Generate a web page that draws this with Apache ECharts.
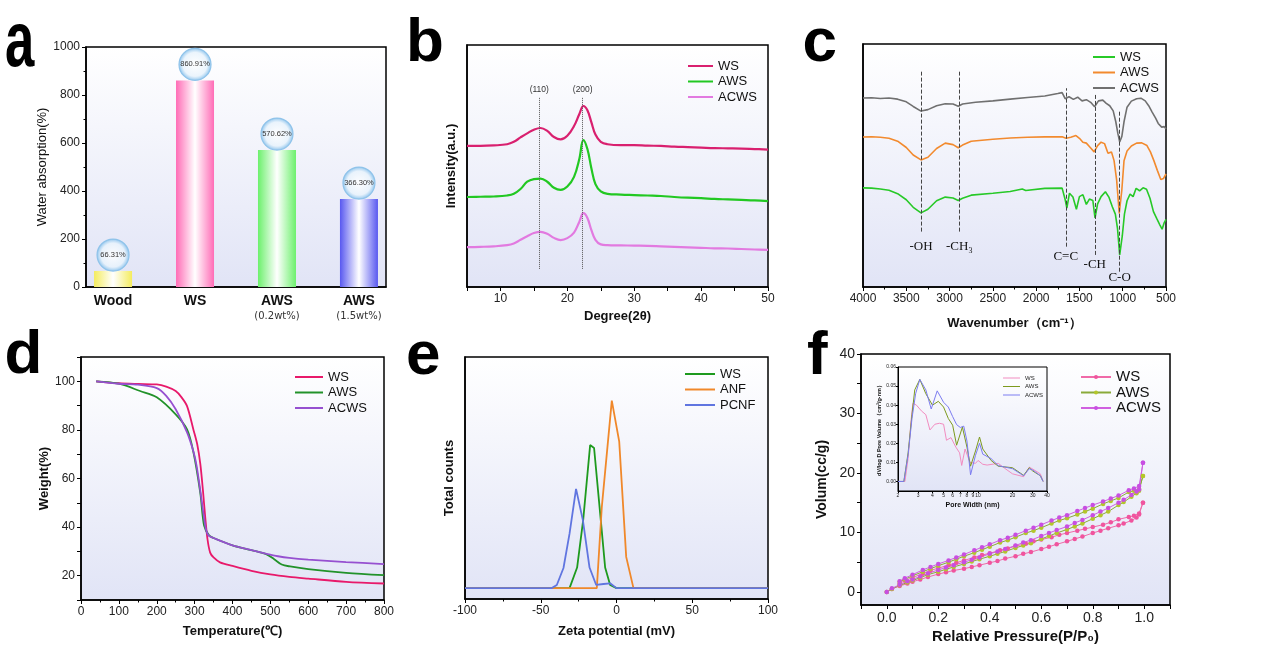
<!DOCTYPE html>
<html>
<head>
<meta charset="utf-8">
<script src="https://cdn.jsdelivr.net/npm/echarts@6/dist/echarts.min.js"></script>
<style>
  html, body { margin: 0; padding: 0; background: #fff; }
  .layer { position: absolute; left: 0; top: 0; width: 1268px; height: 663px; }
</style>
</head>
<body>
<div id="pa" class="layer"></div>
<div id="pb" class="layer"></div>
<div id="pc" class="layer"></div>
<div id="pd" class="layer"></div>
<div id="pe" class="layer"></div>
<div id="pf" class="layer"></div>
<div id="pinset" class="layer"></div>
<script>
// ---- a: water absorption ----
const absCats = ['Wood', 'WS', 'AWS', 'AWS'];
const absSub = ['', '', '(0.2wt%)', '(1.5wt%)'];
const absValues = [66.31, 860.91, 570.62, 366.30];
const absColors = ['#f4ec5e', '#ff6cb6', '#6cf06c', '#5858f0'];

// ---- b: XRD ----
const xrdDeg = [5, 7, 9, 11, 12, 13, 14, 15, 16, 17, 18, 19, 20, 21, 21.8, 22.4, 23, 23.6, 24.2, 25, 26, 28, 30, 32, 34, 36, 38, 40, 42, 44, 46, 48, 50];
const xrdWS = [58.3, 58.3, 58.5, 59, 60, 61.8, 63.5, 65, 65.7, 64.5, 62, 61, 62.5, 66.5, 71.5, 74.8, 73, 68, 63, 60, 59, 58.6, 58.6, 58.4, 58.3, 58, 57.8, 57.6, 57.4, 57.3, 57.2, 57, 56.8];
const xrdAWS = [37.2, 37.3, 37.4, 37.8, 38.5, 40.5, 43.5, 44.6, 44.8, 43.5, 41, 40.1, 41.5, 45.5, 53, 60.7, 57, 49, 42.5, 39.5, 38.5, 38.2, 38, 37.8, 37.6, 37.2, 36.9, 36.7, 36.4, 36.2, 36, 35.8, 35.5];
const xrdACWS = [16.5, 16.6, 16.8, 17.3, 18, 19.5, 21, 22.3, 22.8, 22, 20.3, 19.4, 20.2, 22.5, 27, 30.5, 28.5, 23.5, 19.5, 17.6, 17.3, 17.2, 17.1, 17, 16.8, 16.6, 16.4, 16.2, 16, 15.9, 15.7, 15.5, 15.3];
const xrdPeaks = [15.8, 22.3];
const xrdPeakNames = ['(110)', '(200)'];

// ---- c: FTIR ----
const ftACWS = [[4000,77.8],[3900,77.9],[3800,77.6],[3700,77.8],[3600,77.3],[3500,76.2],[3420,74.3],[3330,72.4],[3250,73],[3150,74.6],[3050,75.4],[2960,75.3],[2900,74.4],[2850,75.3],[2700,76],[2500,76.6],[2300,77.3],[2100,78],[1900,78.6],[1750,79.6],[1700,80],[1665,77.5],[1620,78.3],[1570,77.2],[1520,78.1],[1470,76.6],[1420,77.1],[1370,76],[1325,74.2],[1280,76.6],[1230,76.9],[1190,75.6],[1150,74.6],[1110,72.5],[1080,68],[1055,63],[1035,59.7],[1010,62],[985,68],[950,74],[900,76.5],[840,77.5],[790,77.7],[740,76.6],[700,74.6],[660,72],[620,69.5],[590,67.3],[550,65.8],[520,66],[500,65]];
const ftAWS = [[4000,61.7],[3900,61.8],[3800,61.6],[3700,61.2],[3600,60],[3500,57.4],[3420,54.3],[3330,52.3],[3250,53.4],[3150,57],[3050,59.2],[2960,58.6],[2900,57.3],[2850,58.4],[2750,60],[2500,60.8],[2300,61.3],[2100,61.6],[1900,61.8],[1700,61.8],[1655,61.2],[1600,61.6],[1540,62.3],[1500,61.2],[1460,59.6],[1420,59.2],[1380,57.6],[1330,55.6],[1290,58.2],[1250,59.6],[1210,59],[1170,55],[1130,55.6],[1100,52],[1070,44],[1040,30.3],[1010,40],[985,52],[950,56],[900,58],[840,59.2],[780,59.3],[720,58.2],[680,55.6],[640,52],[600,48],[560,44.2],[530,44.6],[500,46.5]];
const ftWS = [[4000,40.8],[3900,40.7],[3800,40.3],[3700,39.8],[3600,38.4],[3500,35.9],[3420,32.8],[3330,30.5],[3250,32],[3150,35.5],[3050,37],[2960,36.6],[2900,35.6],[2850,36.5],[2750,37.8],[2500,38.6],[2300,39.3],[2160,40.3],[2120,39.7],[1900,40.6],[1700,40.7],[1665,36],[1645,32.5],[1615,38.6],[1575,37],[1535,32],[1500,37.2],[1460,38],[1420,34],[1385,36.2],[1345,35.6],[1320,28.4],[1290,34.2],[1250,37.2],[1200,39.2],[1160,37],[1120,33],[1085,30],[1060,24],[1035,13.2],[1005,21],[980,30],[950,35.5],[915,38.2],[880,37.2],[845,40.6],[805,39.6],[765,40.8],[725,40.2],[685,36.5],[645,31],[605,28],[570,25.5],[545,23.8],[520,26.5],[500,27.8]];
const ftBands = ['-OH', '-CH₃', 'C=C', '-CH', 'C-O'];
const ftBandPos = [3330, 2887, 1658, 1323, 1036];
const ftBandLow = [22.8, 22.8, 16.6, 13.2, 6.3];
const ftBandHigh = [88.6, 88.6, 81.8, 79.4, 72.8];

// ---- d: TGA ----
const tgWS = [[40,100],[100,99.2],[150,98.9],[200,98.7],[225,97.8],[250,96],[265,93.5],[280,89.8],[297,80],[307,74],[315,66],[322,55],[328,44],[334,35],[341,29.5],[350,27.5],[367,25.5],[400,24],[450,22],[500,20.5],[550,19.5],[600,18.8],[700,17.5],[800,16.8]];
const tgAWS = [[40,100],[100,99],[156,96],[200,93.4],[250,86.4],[280,80.2],[297,70.7],[315,54],[325,40.6],[338,36.6],[350,35.5],[400,32.5],[450,30.5],[490,28.8],[510,26.8],[530,24.6],[552,23.8],[600,22.7],[700,21.2],[800,20.2]];
const tgACWS = [[40,100],[100,99],[150,98.6],[200,97.2],[225,94],[250,88.5],[280,79],[297,71],[305,65.4],[315,55],[322,47],[330,39],[337,36.5],[350,35.5],[400,32.5],[450,30.5],[490,29],[520,28],[550,27.3],[600,26.6],[700,25.6],[800,24.8]];

// ---- e: zeta potential ----
const zWS = [[-100,4.5],[-31,4.5],[-26,13],[-22,32.6],[-17.4,63.6],[-14.8,62.4],[-10.8,35.5],[-7.5,13],[-4.2,5.8],[0,4.5],[100,4.5]];
const zANF = [[-100,4.5],[-13,4.5],[-9.7,38],[-6.4,60],[-3.1,82],[1.8,65],[6.4,17.4],[11.2,4.5],[100,4.5]];
const zPCNF = [[-100,4.5],[-42.7,4.5],[-39.4,5.8],[-35,12.8],[-31,27],[-26.7,45.5],[-22.2,32.6],[-17.8,13],[-13.4,5.8],[-8.6,6.2],[-4.2,6.5],[0,4.5],[100,4.5]];

// ---- f: N2 isotherms ----
const adsP = [0, 0.02, 0.05, 0.08, 0.1, 0.13, 0.16, 0.2, 0.23, 0.26, 0.3, 0.33, 0.36, 0.4, 0.43, 0.46, 0.5, 0.53, 0.56, 0.6, 0.63, 0.66, 0.7, 0.73, 0.76, 0.8, 0.83, 0.86, 0.9, 0.92, 0.95, 0.97, 0.98, 0.995];
const desP = [0.995, 0.98, 0.96, 0.94, 0.9, 0.87, 0.84, 0.8, 0.77, 0.74, 0.7, 0.67, 0.64, 0.6, 0.57, 0.54, 0.5, 0.47, 0.44, 0.4, 0.37, 0.34, 0.3, 0.27, 0.24, 0.2, 0.17, 0.14, 0.1, 0.07, 0.05];
const wsAds = [0, 0.5, 1.0, 1.4, 1.7, 2.1, 2.5, 3.0, 3.3, 3.6, 3.9, 4.2, 4.5, 4.9, 5.2, 5.6, 6.0, 6.4, 6.7, 7.2, 7.6, 8.0, 8.5, 8.9, 9.3, 9.9, 10.3, 10.7, 11.2, 11.5, 12.0, 12.5, 13.0, 15.0];
const wsDes = [15.0, 13.2, 12.8, 12.6, 12.2, 11.7, 11.3, 10.9, 10.6, 10.3, 9.9, 9.6, 9.2, 8.8, 8.5, 8.1, 7.7, 7.3, 7.0, 6.5, 6.2, 5.8, 5.3, 4.9, 4.5, 4.0, 3.6, 3.1, 2.4, 1.9, 1.4];
const awsAds = [0, 0.5, 1.1, 1.6, 1.9, 2.4, 2.9, 3.4, 3.8, 4.2, 4.7, 5.1, 5.5, 6.0, 6.4, 6.8, 7.4, 7.8, 8.2, 8.9, 9.4, 9.9, 10.5, 11.0, 11.5, 12.3, 12.9, 13.5, 14.6, 15.1, 16.0, 16.6, 17.0, 19.5];
const awsDes = [19.5, 17.3, 17.0, 16.8, 15.8, 15.3, 14.8, 14.0, 13.5, 13.0, 12.4, 12.0, 11.5, 10.8, 10.3, 9.9, 9.2, 8.7, 8.3, 7.6, 7.1, 6.6, 6.0, 5.5, 5.0, 4.4, 3.9, 3.4, 2.7, 2.1, 1.7];
const acwsAds = [0, 0.6, 1.2, 1.8, 2.1, 2.6, 3.1, 3.7, 4.1, 4.5, 5.0, 5.4, 5.8, 6.4, 6.8, 7.2, 7.8, 8.3, 8.7, 9.4, 9.9, 10.4, 11.0, 11.6, 12.1, 12.9, 13.5, 14.1, 15.0, 15.5, 16.3, 16.9, 17.2, 21.7];
const acwsDes = [21.7, 17.8, 17.4, 17.1, 16.2, 15.7, 15.2, 14.6, 14.1, 13.6, 12.9, 12.5, 12.0, 11.3, 10.8, 10.3, 9.6, 9.1, 8.7, 8.0, 7.5, 7.0, 6.3, 5.8, 5.3, 4.7, 4.2, 3.7, 2.9, 2.3, 1.8];

// ---- f inset: pore size distribution ----
const poreWS = [[2.0,0],[2.3,0],[2.45,0.012],[2.6,0.032],[2.7,0.041],[2.9,0.040],[3.2,0.037],[3.5,0.035],[3.8,0.027],[4.2,0.030],[4.6,0.0305],[5.0,0.030],[5.3,0.0216],[5.8,0.023],[6.4,0.018],[6.9,0.015],[7.2,0.0084],[7.7,0.017],[8.5,0.010],[9.5,0.0095],[10,0.011],[11,0.009],[12,0.0086],[15,0.0095],[17,0.007],[20,0.004],[25,0.0025],[28,0.0075],[30,0.0065],[35,0.004],[37,0]];
const poreAWS = [[2.0,0],[2.25,0],[2.45,0.015],[2.65,0.035],[2.8,0.048],[3.1,0.0535],[3.5,0.046],[4.0,0.040],[4.5,0.042],[5.0,0.039],[5.5,0.033],[6.0,0.0295],[6.5,0.019],[7.3,0.0285],[8.0,0.018],[8.6,0.008],[9.5,0.016],[10.3,0.0233],[11,0.017],[13,0.011],[15,0.008],[20,0.0072],[25,0.0032],[28,0.0072],[30,0.0055],[35,0.003],[37,0]];
const poreACWS = [[2.0,0],[2.25,0],[2.45,0.014],[2.65,0.033],[2.85,0.046],[3.1,0.0535],[3.5,0.048],[3.9,0.038],[4.4,0.0475],[5.0,0.0415],[5.5,0.039],[6.0,0.034],[6.5,0.0298],[7.0,0.0283],[7.5,0.029],[8.0,0.0212],[8.6,0.0035],[9.5,0.0137],[10.3,0.020],[11,0.0143],[13,0.012],[15,0.0083],[20,0.0067],[25,0.003],[28,0.0067],[30,0.006],[35,0.003],[37,0]];
const poreTicks = [2, 3, 4, 5, 6, 7, 8, 9, 10, 20, 30, 40];

const FONT = 'Liberation Sans, Arial, sans-serif';

function bgFill() {
  return new echarts.graphic.LinearGradient(0, 0, 0, 1, [
    {offset: 0, color: '#ffffff'}, {offset: 1, color: '#e1e4f6'}
  ]);
}

function frame(left, top, width, height, bw) {
  return {left, top, width, height, show: true, borderColor: '#000',
    borderWidth: bw || 1.5, backgroundColor: bgFill()};
}

function axis(opts) {
  const base = {
    type: 'value',
    splitLine: {show: false},
    axisLine: {show: true, onZero: false, lineStyle: {color: '#000', width: 1.5}},
    axisTick: {show: true, length: 4, lineStyle: {color: '#000', width: 1}},
    axisLabel: {color: '#222', fontSize: 12, fontFamily: FONT, margin: 6, formatter: v => String(v)},
    nameLocation: 'middle',
    nameTextStyle: {color: '#111', fontSize: 13, fontWeight: 'bold', fontFamily: FONT}
  };
  for (const k in opts) {
    const v = opts[k];
    if (base[k] && typeof base[k] === 'object' && v && typeof v === 'object' && !Array.isArray(v)) {
      base[k] = Object.assign({}, base[k], v);
    } else {
      base[k] = v;
    }
  }
  return base;
}

function legend(left, top, names, opts) {
  return Object.assign({
    left, top, data: names, orient: 'vertical', padding: 0,
    icon: 'rect', itemWidth: 25, itemHeight: 2, itemGap: 2.5,
    textStyle: {color: '#111', fontSize: 13, fontFamily: FONT}
  }, opts || {});
}

function line(name, data, color, width, smooth) {
  return {type: 'line', name, data, symbol: 'none', smooth: smooth || false,
    lineStyle: {color, width}, itemStyle: {color}};
}

function letter(ch, x, y, sx, sy) {
  return {type: 'text', x, y, scaleX: sx || 1, scaleY: sy || 1, silent: true,
    style: {text: ch, fontSize: 62, fontWeight: 'bold', fontFamily: FONT, fill: '#000',
      textAlign: 'left', textVerticalAlign: 'middle', verticalAlign: 'middle'}};
}

function render(id, option) {
  const chart = echarts.init(document.getElementById(id), null, {renderer: 'canvas'});
  option.animation = false;
  chart.setOption(option);
  return chart;
}

// ---------- panel a ----------
function barFill(c) {
  return new echarts.graphic.LinearGradient(0, 0, 1, 0, [
    {offset: 0, color: c}, {offset: 0.5, color: '#ffffff'}, {offset: 1, color: c}
  ]);
}
const bubbleFill = new echarts.graphic.RadialGradient(0.5, 0.5, 0.5, [
  {offset: 0, color: 'rgba(255,255,255,0.85)'},
  {offset: 0.72, color: 'rgba(232,243,252,0.85)'},
  {offset: 1, color: 'rgba(130,190,235,0.95)'}
]);

render('pa', {
  graphic: [
    letter('a', 5, 45, 0.85, 1.25),
    letter('b', 406, 43.5),
    letter('c', 802.5, 43.5),
    letter('d', 4.5, 355.5),
    letter('e', 406, 356.5),
    letter('f', 807, 356.5)
  ],
  grid: frame(86, 47, 300, 240),
  xAxis: axis({
    min: 0.67, max: 4.33,
    axisTick: {show: false},
    axisLabel: {
      customValues: [1, 2, 3, 4], margin: 6,
      formatter: function (v) {
        const i = Math.round(v) - 1;
        return '{m|' + absCats[i] + '}' + (absSub[i] ? '\n{s|' + absSub[i] + '}' : '');
      },
      rich: {
        m: {fontSize: 14, fontWeight: 'bold', color: '#111', fontFamily: FONT, lineHeight: 17},
        s: {fontSize: 10, color: '#333', fontFamily: 'DejaVu Sans, sans-serif', lineHeight: 13}
      }
    }
  }),
  yAxis: axis({
    min: 0, max: 1000, interval: 200,
    minorTick: {show: true, splitNumber: 2, length: 2.5, lineStyle: {color: '#000'}},
    name: 'Water absorption(%)', nameGap: 34,
    nameTextStyle: {fontWeight: 'normal', fontSize: 13}
  }),
  series: [
    {
      type: 'bar', barWidth: 38,
      data: absValues.map((v, i) => ({value: [i + 1, v], itemStyle: {color: barFill(absColors[i])}}))
    },
    {
      type: 'scatter', symbol: 'circle', symbolSize: 32, symbolOffset: [0, -16], z: 5,
      data: absValues.map((v, i) => [i + 1, v]),
      itemStyle: {color: bubbleFill, borderColor: '#8fc3ea', borderWidth: 1.2, opacity: 1},
      label: {
        show: true, position: 'inside', fontSize: 7.5, color: '#333', fontFamily: FONT,
        formatter: p => absValues[p.dataIndex].toFixed(2) + '%'
      }
    }
  ]
});

// ---------- panel b ----------
render('pb', {
  grid: frame(467, 45, 301, 242),
  legend: legend(688, 59.5, ['WS', 'AWS', 'ACWS'], {itemWidth: 25}),
  xAxis: axis({
    min: 5, max: 50, interval: 5,
    axisLabel: {formatter: v => (v % 10 === 0 ? String(v) : '')},
    name: 'Degree(2θ)', nameGap: 23
  }),
  yAxis: axis({
    min: 0, max: 100, axisTick: {show: false}, axisLabel: {show: false},
    name: 'Intensity(a.u.)', nameGap: 9
  }),
  series: [
    Object.assign(line('WS', xrdDeg.map((d, i) => [d, xrdWS[i]]), '#d9206f', 2.2, 0.4), {
      markLine: {
        silent: true, symbol: ['none', 'none'],
        lineStyle: {type: 'dotted', color: '#555', width: 1},
        label: {show: true, position: 'end', distance: 3, fontSize: 8.5, color: '#333',
          fontFamily: FONT, formatter: p => p.name},
        data: xrdPeaks.map((x, i) => [{name: xrdPeakNames[i], coord: [x, 7.5]}, {coord: [x, 78.5]}])
      }
    }),
    line('AWS', xrdDeg.map((d, i) => [d, xrdAWS[i]]), '#22c822', 2.2, 0.4),
    line('ACWS', xrdDeg.map((d, i) => [d, xrdACWS[i]]), '#e27ae0', 2.2, 0.4)
  ]
});

// ---------- panel c ----------
const bandDistance = [8, 8, 3, 3, -1];
render('pc', {
  grid: frame(863, 44, 303, 243),
  legend: legend(1093, 50.5, ['WS', 'AWS', 'ACWS'], {itemWidth: 22}),
  xAxis: axis({
    min: 500, max: 4000, interval: 500, inverse: true,
    minorTick: {show: true, splitNumber: 2, length: 2.5, lineStyle: {color: '#000'}},
    name: 'Wavenumber（cm⁻¹）', nameGap: 30
  }),
  yAxis: axis({
    min: 0, max: 100, axisTick: {show: false}, axisLabel: {show: false}
  }),
  series: [
    Object.assign(line('ACWS', ftACWS, '#707070', 1.6), {
      markLine: {
        silent: true, symbol: ['none', 'none'],
        lineStyle: {type: 'dashed', color: '#444', width: 1},
        label: {show: true, position: 'start', fontSize: 13, color: '#111',
          fontFamily: 'Liberation Serif, Times New Roman, serif', formatter: p => p.name},
        data: ftBands.map((n, i) => [
          {name: n, coord: [ftBandPos[i], ftBandLow[i]], label: {distance: bandDistance[i]}},
          {coord: [ftBandPos[i], ftBandHigh[i]]}
        ])
      }
    }),
    line('AWS', ftAWS, '#f28a2e', 1.6),
    line('WS', ftWS, '#27c927', 1.6)
  ]
});

// ---------- panel d ----------
render('pd', {
  grid: frame(81, 357, 303, 243),
  legend: legend(295, 370.5, ['WS', 'AWS', 'ACWS'], {itemWidth: 28}),
  xAxis: axis({
    min: 0, max: 800, interval: 100,
    minorTick: {show: true, splitNumber: 2, length: 2.5, lineStyle: {color: '#000'}},
    name: 'Temperature(℃)', nameGap: 25
  }),
  yAxis: axis({
    min: 10, max: 110, interval: 10,
    axisLabel: {formatter: v => (v % 20 === 0 && v >= 20 && v <= 100 ? String(v) : '')},
    name: 'Weight(%)', nameGap: 24
  }),
  series: [
    line('WS', tgWS, '#e8196a', 1.8, 0.3),
    line('AWS', tgAWS, '#22922a', 1.8, 0.3),
    line('ACWS', tgACWS, '#9650d0', 1.8, 0.3)
  ]
});

// ---------- panel e ----------
render('pe', {
  grid: frame(465, 357, 303, 242),
  legend: legend(685, 367.5, ['WS', 'ANF', 'PCNF'], {itemWidth: 30}),
  xAxis: axis({
    min: -100, max: 100, interval: 50,
    minorTick: {show: true, splitNumber: 2, length: 2.5, lineStyle: {color: '#000'}},
    name: 'Zeta potential (mV)', nameGap: 26
  }),
  yAxis: axis({
    min: 0, max: 100, axisTick: {show: false}, axisLabel: {show: false},
    name: 'Total counts', nameGap: 9
  }),
  series: [
    line('WS', zWS, '#1e9a1e', 1.8),
    line('ANF', zANF, '#f0882a', 1.8),
    line('PCNF', zPCNF, '#6075e0', 1.8)
  ]
});

// ---------- panel f ----------
function isoBranch(name, pArr, vArr, color, lineColor) {
  return {
    type: 'line', name, data: pArr.map((p, i) => [p, vArr[i]]),
    symbol: 'circle', symbolSize: 4.5, showSymbol: true,
    lineStyle: {color: lineColor, width: 1}, itemStyle: {color}
  };
}
render('pf', {
  grid: frame(861, 354, 309, 251),
  legend: legend(1080, 369.5, ['WS', 'AWS', 'ACWS'], {
    icon: null, itemWidth: 30, itemHeight: 5, itemGap: 0.5,
    textStyle: {color: '#111', fontSize: 15, fontFamily: FONT}
  }),
  xAxis: axis({
    min: -0.1, max: 1.1, interval: 0.1,
    axisLabel: {fontSize: 14, formatter: v => (Math.round(v * 10) % 2 === 0 ? v.toFixed(1) : '')},
    name: 'Relative Pressure(P/P₀)', nameGap: 24, nameTextStyle: {fontSize: 15}
  }),
  yAxis: axis({
    min: -2.2, max: 40,
    axisLabel: {fontSize: 14, customValues: [0, 10, 20, 30, 40]},
    axisTick: {customValues: [0, 5, 10, 15, 20, 25, 30, 35, 40]},
    name: 'Volum(cc/g)', nameGap: 32, nameTextStyle: {fontSize: 14}
  }),
  series: [
    isoBranch('WS', adsP, wsAds, '#f0549e', '#f06aa8'),
    isoBranch('WS', desP, wsDes, '#f0549e', '#f06aa8'),
    isoBranch('AWS', adsP, awsAds, '#b4c62a', '#8aaa3a'),
    isoBranch('AWS', desP, awsDes, '#b4c62a', '#8aaa3a'),
    isoBranch('ACWS', adsP, acwsAds, '#c84ee2', '#d060e0'),
    isoBranch('ACWS', desP, acwsDes, '#c84ee2', '#d060e0')
  ]
});

// ---------- f inset ----------
render('pinset', {
  grid: frame(898, 367, 149, 124, 1),
  legend: legend(1003, 375, ['WS', 'AWS', 'ACWS'], {
    itemWidth: 17, itemHeight: 1, itemGap: 2.5,
    textStyle: {color: '#222', fontSize: 6, fontFamily: FONT}
  }),
  xAxis: axis({
    type: 'log', logBase: 10, min: 2, max: 40,
    axisLine: {lineStyle: {color: '#000', width: 1}},
    axisTick: {length: 2, customValues: poreTicks},
    axisLabel: {fontSize: 5, margin: 2, customValues: poreTicks},
    minorTick: {show: false},
    name: 'Pore Width (nm)', nameGap: 11, nameTextStyle: {fontSize: 7}
  }),
  yAxis: axis({
    min: -0.005, max: 0.06,
    axisLine: {lineStyle: {color: '#000', width: 1}},
    axisTick: {length: 2, customValues: [0, 0.01, 0.02, 0.03, 0.04, 0.05, 0.06]},
    axisLabel: {fontSize: 5, margin: 2, customValues: [0, 0.01, 0.02, 0.03, 0.04, 0.05, 0.06],
      formatter: v => v.toFixed(2)},
    name: 'dV/log D Pore Volume（cm³/g·nm）', nameGap: 15, nameTextStyle: {fontSize: 5.5}
  }),
  series: [
    line('WS', poreWS, '#f28cc0', 1),
    line('AWS', poreAWS, '#7d9a1e', 1),
    line('ACWS', poreACWS, '#7c7cf0', 1)
  ]
});
</script>
</body>
</html>
